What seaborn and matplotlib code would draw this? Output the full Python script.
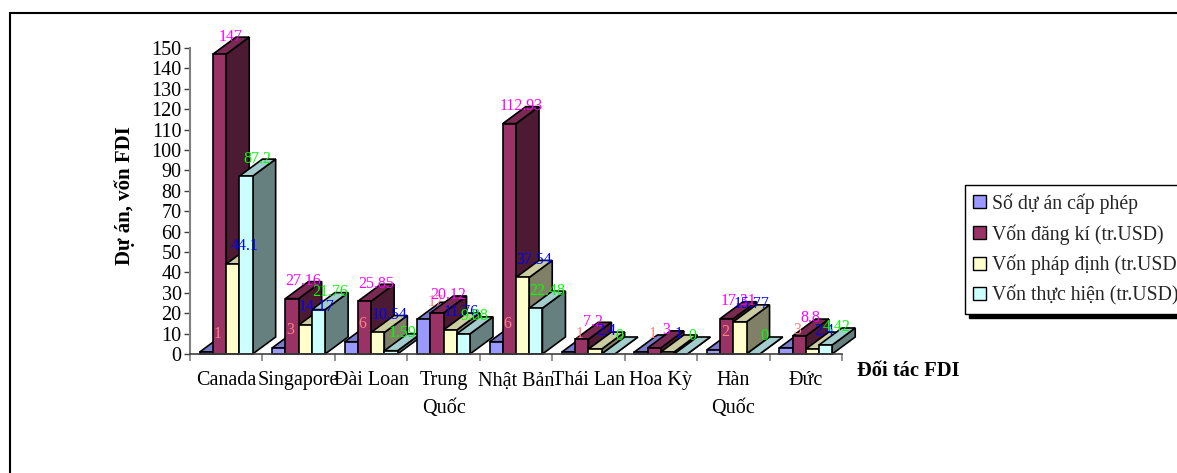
import matplotlib
matplotlib.use("Agg")
import matplotlib.pyplot as plt
from matplotlib.patches import Polygon, Rectangle, Patch
import pandas as pd
import seaborn as sns

partners = ["Canada", "Singapore", "Đài Loan", "Trung\nQuốc", "Nhật Bản",
            "Thái Lan", "Hoa Kỳ", "Hàn\nQuốc", "Đức"]
so_du_an = [1, 3, 6, 17, 6, 1, 1, 2, 3]
von_dang_ki = [147, 27.16, 25.85, 20.12, 112.93, 7.2, 3, 17.31, 8.8]
von_phap_dinh = [44.1, 14.17, 10.54, 11.76, 37.54, 2.4, 1, 15.77, 2.4]
von_thuc_hien = [87.2, 21.76, 1.59, 9.88, 22.48, 0, 0, 0, 4.42]
series_names = ["Số dự án cấp phép", "Vốn đăng kí (tr.USD)",
                "Vốn pháp định (tr.USD)", "Vốn thực hiện (tr.USD)"]
series_values = [so_du_an, von_dang_ki, von_phap_dinh, von_thuc_hien]
front_colors = ["#9999FF", "#993366", "#FFFFCC", "#CCFFFF"]
top_colors = ["#7A7ACC", "#7A2952", "#CCCCA3", "#A3CCCC"]
side_colors = ["#4D4D80", "#4D1A33", "#808066", "#668080"]
label_colors = ["#FF8080", "#FF00FF", "#0000FF", "#00FF00"]

W, H = 1177, 473
sns.set_theme(style="white")
plt.rcParams["font.family"] = ["Liberation Serif", "DejaVu Serif"]

fig = plt.figure(figsize=(W / 100, H / 100), dpi=100, facecolor="white")
ax = fig.add_axes([190 / W, 1 - 354 / H, (842 - 190) / W, (354 - 48) / H])
ax.patch.set_alpha(0)

long = pd.DataFrame({
    "partner": [p for _ in series_names for p in partners],
    "series": [s for s in series_names for _ in partners],
    "value": [v for vals in series_values for v in vals],
})
sns.barplot(data=long, x="partner", y="value", hue="series", hue_order=series_names,
            order=partners, palette=front_colors, saturation=1, width=0.73, gap=0,
            edgecolor="black", linewidth=1.2, errorbar=None, legend=False, ax=ax)

ax.set_xlim(-0.5, 8.5)
ax.set_ylim(0, 150)
ax.set_xlabel("")
ax.set_ylabel("")

# Oblique extrusion of each bar, expressed in data units
depth_x = 23 / ((842 - 190) / 9)
depth_y = 17 / ((354 - 48) / 150)

for j, container in enumerate(ax.containers):
    for i, bar in enumerate(container.patches):
        x0, x1 = bar.get_x(), bar.get_x() + bar.get_width()
        h = series_values[j][i]
        base_z = 3 + i + j * 0.1
        bar.set_zorder(base_z + 0.02)
        bar.set_clip_on(False)
        ax.add_patch(Polygon([(x1, 0), (x1 + depth_x, depth_y), (x1 + depth_x, h + depth_y), (x1, h)],
                             facecolor=side_colors[j], edgecolor="black", linewidth=1.2,
                             zorder=base_z, clip_on=False))
        ax.add_patch(Polygon([(x0, h), (x0 + depth_x, h + depth_y), (x1 + depth_x, h + depth_y), (x1, h)],
                             facecolor=top_colors[j], edgecolor="black", linewidth=1.2,
                             zorder=base_z + 0.01, clip_on=False))
        ax.text((x0 + x1 + depth_x) / 2, h + depth_y + 0.3, f"{h:g}", color=label_colors[j],
                ha="center", va="center", fontsize=11.5, zorder=50 + j, clip_on=False)

# Axes: grey value axis with outward ticks, category ticks on the boundaries
sns.despine(ax=ax, top=True, right=True)
ax.spines["left"].set_color("#808080")
ax.spines["left"].set_linewidth(1.5)
ax.spines["bottom"].set_color("#404040")
ax.spines["bottom"].set_linewidth(1.2)
ax.spines["bottom"].set_zorder(40)
ax.set_yticks(range(0, 151, 10))
ax.tick_params(axis="y", left=True, length=4, width=1, color="#404040", labelsize=14.5, pad=2,
               labelcolor="black")
ax.set_xticks([i - 0.5 for i in range(10)], minor=True)
ax.tick_params(axis="x", which="minor", bottom=True, length=5, width=1.2, color="#808080")
ax.tick_params(axis="x", which="major", bottom=False, labelsize=14.5, pad=6.5, labelcolor="black")
for label in ax.get_xticklabels():
    label.set_linespacing(1.6)
    label.set_verticalalignment("top")

fig.text(125 / W, 1 - 196 / H, "Dự án, vốn FDI", rotation=90, fontweight="bold", fontsize=15,
         ha="center", va="center", color="black")
fig.text(908 / W, 1 - 371 / H, "Đối tác FDI", fontweight="bold", fontsize=14.8,
         ha="center", va="center", color="black")

# Chart-area frame
fig.add_artist(Rectangle((9.5 / W, 1 - 900 / H), 1300 / W, (900 - 13) / H, transform=fig.transFigure,
                         facecolor="none", edgecolor="black", linewidth=1.5))

handles = [Patch(facecolor=c, edgecolor="black", linewidth=1) for c in front_colors]
leg = fig.legend(handles, series_names, loc="upper left", bbox_to_anchor=(965 / W, 1 - 185 / H),
                 frameon=True, fancybox=False, edgecolor="black", facecolor="white", framealpha=1,
                 fontsize=14.2, handlelength=0.62, handleheight=0.62, handletextpad=0.33,
                 labelspacing=0.52, borderpad=0.42, borderaxespad=0,
                 shadow={"color": "black", "alpha": 1, "ox": 3, "oy": -3})
leg.set_zorder(60)

fig.savefig("out.png", dpi=100)
